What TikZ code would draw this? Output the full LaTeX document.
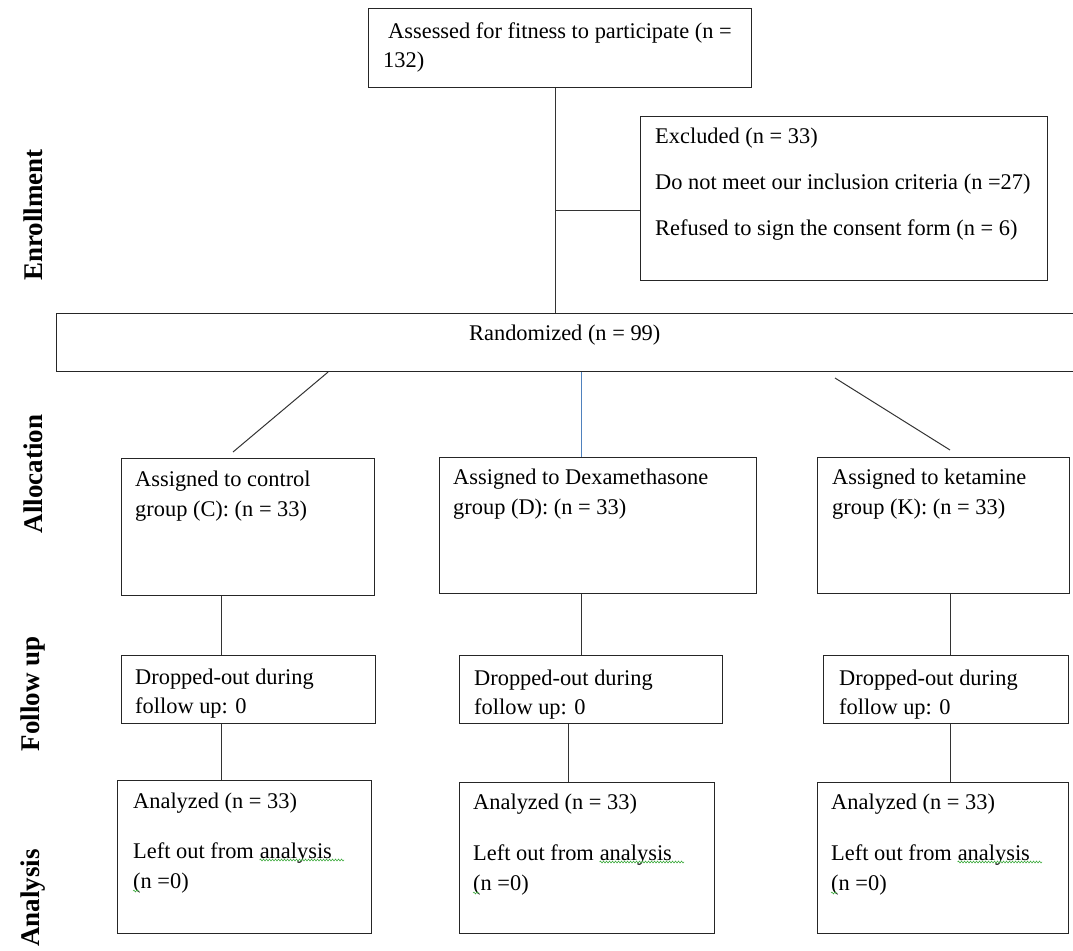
\documentclass[tikz,border=0pt]{standalone}
\usepackage{fontspec}
\setmainfont{Liberation Serif}
\usetikzlibrary{decorations.pathmorphing}
\definecolor{linkblue}{RGB}{79,129,189}
\definecolor{spellgreen}{RGB}{60,170,60}
\begin{document}
\begin{tikzpicture}[x=1pt,y=-1pt,
  box/.style={draw=black!85, line width=1.1pt, inner sep=0pt, anchor=north west},
  txt/.style={anchor=base west, inner sep=0pt, font=\fontsize{22.4}{26}\selectfont},
  side/.style={rotate=90, inner sep=0pt, font=\fontsize{27}{30}\selectfont\bfseries},
  conn/.style={draw=black!80, line width=1pt},
  spell/.style={draw=spellgreen, line width=0.6pt, decorate, decoration={snake, amplitude=0.9pt, segment length=3pt}}]
\useasboundingbox (0,0) rectangle (1073,950);
\clip (0,0) rectangle (1073,950);

% side labels
\node[side] (lenr) at (33,215) {Enrollment};
\node[side] (lall) at (33,474) {Allocation};
\node[side] (lfol) at (33,694) {Follow up};
\node[side] (lana) at (33,898) {Analysis};

% boxes
\node[box, minimum width=383, minimum height=79] (top) at (368,8) {};
\node[box, minimum width=407, minimum height=164] (excl) at (640,116) {};
\node[box, minimum width=1030, minimum height=58] (rand) at (56,313) {};
\node[box, minimum width=253, minimum height=137] (C) at (121,458) {};
\node[box, minimum width=317, minimum height=136] (D) at (439,457) {};
\node[box, minimum width=252, minimum height=136] (K) at (817,457) {};
\node[box, minimum width=254, minimum height=68] (dC) at (121,655) {};
\node[box, minimum width=263, minimum height=68] (dD) at (459,655) {};
\node[box, minimum width=245, minimum height=68] (dK) at (823,655) {};
\node[box, minimum width=254, minimum height=153] (aC) at (117,780) {};
\node[box, minimum width=255, minimum height=151] (aD) at (459,782) {};
\node[box, minimum width=251, minimum height=151] (aK) at (817,782) {};

% texts
\node[txt] (t1) at (388,39) {Assessed for fitness to participate (n =};
\node[txt] (t2) at (383,67) {132)};
\node[txt] (e1) at (655,143) {Excluded (n = 33)};
\node[txt] (e2) at (655,189) {Do not meet our inclusion criteria (n =27)};
\node[txt] (e3) at (655,235) {Refused to sign the consent form (n = 6)};
\node[txt] (r1) at (469,340) {Randomized (n = 99)};
\node[txt] (c1) at (135,486) {Assigned to control};
\node[txt] (c2) at (135,516) {group (C): (n = 33)};
\node[txt] (d1) at (453,484) {Assigned to Dexamethasone};
\node[txt] (d2) at (453,514) {group (D): (n = 33)};
\node[txt] (k1) at (832,484) {Assigned to ketamine};
\node[txt] (k2) at (832,514) {group (K): (n = 33)};
\node[txt] (dc1) at (135,684) {Dropped-out during};
\node[txt] (dc2) at (135,713) {follow up: 0};
\node[txt] (dd1) at (474,685) {Dropped-out during};
\node[txt] (dd2) at (474,714) {follow up: 0};
\node[txt] (dk1) at (839,685) {Dropped-out during};
\node[txt] (dk2) at (839,714) {follow up: 0};
\node[txt] (ac1) at (133,808) {Analyzed (n = 33)};
\node[txt] (ac2) at (133,858) {Left out from};
\node[txt] (ac2w) at ([xshift=5.5pt]ac2.base east) {analysis};
\node[txt] (ac3) at (133,888) {(n =0)};
\node[txt] (ad1) at (473,809) {Analyzed (n = 33)};
\node[txt] (ad2) at (473,860) {Left out from};
\node[txt] (ad2w) at ([xshift=5.5pt]ad2.base east) {analysis};
\node[txt] (ad3) at (473,890) {(n =0)};
\node[txt] (ak1) at (831,809) {Analyzed (n = 33)};
\node[txt] (ak2) at (831,860) {Left out from};
\node[txt] (ak2w) at ([xshift=5.5pt]ak2.base east) {analysis};
\node[txt] (ak3) at (831,890) {(n =0)};

% spell-check marks
\foreach \w in {ac2w,ad2w,ak2w}{
  \draw[spell] ([yshift=-2pt]\w.base west) -- ([yshift=-2pt,xshift=12pt]\w.base east);
}
\foreach \w in {ac3,ad3,ak3}{
  \draw[spell] ([yshift=-3pt]\w.base west) -- ([yshift=-3pt,xshift=6pt]\w.base west);
}

% connectors
\coordinate (br) at (555,210);
\draw[conn] (555,0 |- top.south) -- (555,0 |- rand.north);
\draw[conn] (br) -- (excl.west |- br);
\coordinate (ldiagend) at (233,452);
\coordinate (rdiagstart) at (835,378);
\coordinate (rdiagend) at (950,450);
\draw[conn] (328,0 |- rand.south) -- (ldiagend);
\draw[draw=linkblue, line width=1pt] (581,0 |- rand.south) -- (581,0 |- D.north);
\draw[conn] (rdiagstart) -- (rdiagend);
\draw[conn] (221,0 |- C.south) -- (221,0 |- dC.north);
\draw[conn] (581,0 |- D.south) -- (581,0 |- dD.north);
\draw[conn] (950,0 |- K.south) -- (950,0 |- dK.north);
\draw[conn] (221,0 |- dC.south) -- (221,0 |- aC.north);
\draw[conn] (568,0 |- dD.south) -- (568,0 |- aD.north);
\draw[conn] (950,0 |- dK.south) -- (950,0 |- aK.north);
\end{tikzpicture}
\end{document}
